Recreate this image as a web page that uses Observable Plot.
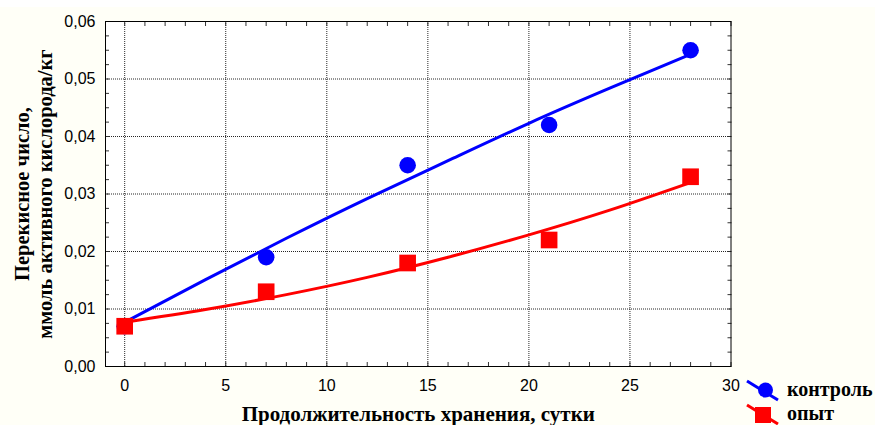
<!DOCTYPE html>
<html>
<head>
<meta charset="utf-8">
<script src="https://cdn.jsdelivr.net/npm/d3@7"></script>
<script src="https://cdn.jsdelivr.net/npm/@observablehq/plot@0.6"></script>
<style>
  html, body { margin: 0; padding: 0; background: #fffff7; }
  #wrap { position: relative; width: 875px; height: 425px; overflow: hidden;
          background: linear-gradient(#ffffff 0 7px, #fffff7 7px); }
  #wrap > svg { position: absolute; left: 0; top: 0; }
  #legend { position: absolute; left: 0; top: 0; }
</style>
</head>
<body>
<div id="wrap"></div>
<script>
// ---- data ----
const days = [0, 7, 14, 21, 28];
const control = [0.007, 0.019, 0.035, 0.042, 0.055];      // контроль
const experiment = [0.007, 0.013, 0.018, 0.022, 0.033];   // опыт

// fitted curves
const fitDays = [0, 4, 8, 12, 16, 20, 24, 28];
const controlFit = [0.0077, 0.0151, 0.0223, 0.0292, 0.0358, 0.0423, 0.0484, 0.0543];
const experimentFit = [0.0077, 0.0099, 0.0125, 0.0155, 0.0190, 0.0229, 0.0272, 0.0320];

const xTicks = [0, 5, 10, 15, 20, 25, 30];
const yTicks = [0, 0.01, 0.02, 0.03, 0.04, 0.05, 0.06];
const xMinor = d3.range(0, 31, 1);
const yMinor = d3.range(0, 25, 1).map(i => i * 0.0025);

const seriesNames = ["контроль", "опыт"];
const seriesColors = ["#0000ff", "#ff0000"];

const xTitle = "Продолжительность хранения, сутки";
const yTitle = "Перекисное число,\nммоль активного кислорода/кг";

const pts = (xs, ys) => xs.map((x, i) => ({x, y: ys[i]}));
const ctrlPts = pts(days, control);
const expPts = pts(days, experiment);
const ctrlFit = pts(fitDays, controlFit);
const expFit = pts(fitDays, experimentFit);

const fmt = d => d.toFixed(2).replace(".", ",");
const serif = "'Liberation Serif', 'Times New Roman', serif";

const chart = Plot.plot({
  width: 875,
  height: 425,
  marginLeft: 105,
  marginRight: 144.5,
  marginTop: 21,
  marginBottom: 59,
  style: {background: "transparent", fontFamily: "'Liberation Sans', Arial, sans-serif", fontSize: "16px", color: "#000"},
  x: {domain: [-0.95, 30]},
  y: {domain: [0, 0.06]},
  marks: [
    Plot.frame({fill: "#ffffff", stroke: "none"}),
    Plot.gridX(xTicks.filter(d => d < 30), {stroke: "#000", strokeOpacity: 0.85, strokeDasharray: "1,1"}),
    Plot.gridY(yTicks.filter(d => d > 0 && d < 0.06), {stroke: "#000", strokeOpacity: 0.85, strokeDasharray: "1,1"}),
    // inward minor ticks
    Plot.axisX(xMinor, {anchor: "bottom", tickSize: -4, tickFormat: () => "", label: null, stroke: "#333"}),
    Plot.axisX(xMinor, {anchor: "top", tickSize: -4, tickFormat: () => "", label: null, stroke: "#333"}),
    Plot.axisY(yMinor, {anchor: "left", tickSize: -4, tickFormat: () => "", label: null, stroke: "#333"}),
    Plot.axisY(yMinor, {anchor: "right", tickSize: -4, tickFormat: () => "", label: null, stroke: "#333"}),
    // tick labels
    Plot.axisX(xTicks, {anchor: "bottom", tickSize: 0, tickPadding: 13, tickFormat: d => String(d), label: null}),
    Plot.axisY(yTicks, {anchor: "left", tickSize: 0, tickPadding: 10, tickFormat: fmt, label: null}),
    Plot.frame({stroke: "#000"}),
    // fitted curves
    Plot.line(ctrlFit, {x: "x", y: "y", stroke: seriesColors[0], strokeWidth: 3, curve: "natural"}),
    Plot.line(expFit, {x: "x", y: "y", stroke: seriesColors[1], strokeWidth: 3, curve: "natural"}),
    // points
    Plot.dot(ctrlPts, {x: "x", y: "y", r: 8.3, fill: seriesColors[0], symbol: "circle"}),
    Plot.dot(expPts, {x: "x", y: "y", r: 9.4, fill: seriesColors[1], symbol: "square"}),
    // titles
    Plot.text([xTitle], {frameAnchor: "bottom", lineAnchor: "bottom", dy: 54, text: d => d,
      fontFamily: serif, fontWeight: "bold", fontSize: 21}),
    Plot.text([yTitle], {frameAnchor: "left", textAnchor: "middle", lineAnchor: "middle", dx: -72, rotate: -90, text: d => d,
      fontFamily: serif, fontWeight: "bold", fontSize: 20.5, lineHeight: 1.12})
  ]
});
document.getElementById("wrap").appendChild(chart);

// legend (bottom right, outside the frame)
const lg = d3.select("#wrap").append("svg").attr("id", "legend")
  .attr("width", 875).attr("height", 425);
const rows = lg.selectAll("g").data(seriesNames).join("g")
  .attr("transform", (d, i) => `translate(0, ${i * 24})`);
rows.append("line").attr("x1", 747).attr("y1", 381).attr("x2", 778).attr("y2", 400)
  .attr("stroke", (d, i) => seriesColors[i]).attr("stroke-width", 3);
rows.filter((d, i) => i === 0).append("circle").attr("cx", 765.5).attr("cy", 390).attr("r", 7.5)
  .attr("fill", seriesColors[0]);
rows.filter((d, i) => i === 1).append("rect").attr("x", 755).attr("y", 383).attr("width", 16).attr("height", 16)
  .attr("fill", seriesColors[1]);
rows.append("text").attr("x", 787).attr("y", 396).text(d => d)
  .attr("font-family", serif).attr("font-weight", "bold").attr("font-size", 20).attr("fill", "#000");
</script>
</body>
</html>
